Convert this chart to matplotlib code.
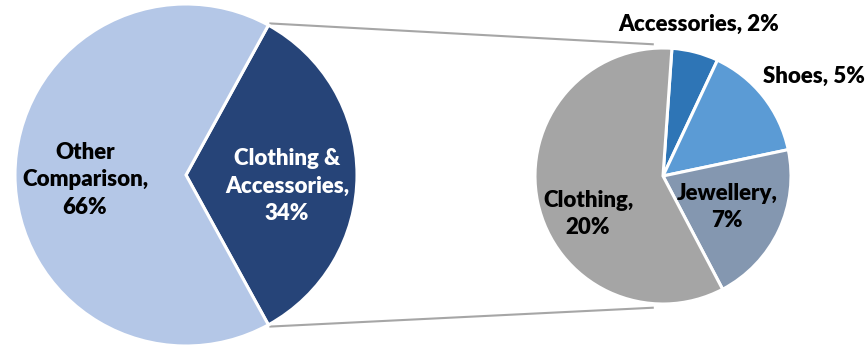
import numpy as np
import matplotlib
matplotlib.use("Agg")
import matplotlib.pyplot as plt

# Overall split of comparison spending
main_labels = ["Clothing &\nAccessories,\n34%", "Other\nComparison,\n66%"]
main_values = [34, 66]
main_colors = ["#264478", "#B4C7E7"]
main_text_colors = ["white", "black"]

# Breakdown of the Clothing & Accessories share
sub_labels = ["Accessories, 2%", "Shoes, 5%", "Jewellery,\n7%", "Clothing,\n20%"]
sub_values = [2, 5, 7, 20]
sub_colors = ["#2E75B6", "#5B9BD5", "#8497B0", "#A5A5A5"]

W, H = 868, 348
fig = plt.figure(figsize=(W / 100, H / 100), dpi=100)
ax = fig.add_axes([0, 0, 1, 1])
ax.set_xlim(0, W)
ax.set_ylim(0, H)
ax.set_aspect("equal")
ax.axis("off")

font = dict(family=["Lato", "DejaVu Sans"], fontweight="heavy", fontsize=16)

# Left pie
c1, r1 = (186, 173), 171
half = 360 * main_values[0] / sum(main_values) / 2
ax.pie(main_values, colors=main_colors, startangle=-half, counterclock=True,
       center=c1, radius=r1, frame=True,
       wedgeprops=dict(edgecolor="white", linewidth=2.2))

main_pos = [(287, 162), (85, 168)]
for lab, (x, y), tc in zip(main_labels, main_pos, main_text_colors):
    ax.text(x, y, lab, ha="center", va="center", color=tc,
            linespacing=1.38, **font)

# Right pie
c2, r2 = (663, 172), 128
ax.pie(sub_values, colors=sub_colors, startangle=86, counterclock=False,
       center=c2, radius=r2, frame=True,
       wedgeprops=dict(edgecolor="white", linewidth=2.2))

sub_pos = [(699, 324), (814, 272), (727, 141), (588, 134)]
for lab, (x, y) in zip(sub_labels, sub_pos):
    ax.text(x, y, lab, ha="center", va="center", color="black",
            linespacing=1.38, **font)

# Connector lines between the exploded slice and the breakdown pie
ax.set_xlim(0, W)
ax.set_ylim(0, H)
for sign in (1, -1):
    a1 = np.deg2rad(sign * half)
    a2 = np.deg2rad(sign * 94)
    p1 = (c1[0] + (r1 + 2) * np.cos(a1), c1[1] + (r1 + 2) * np.sin(a1))
    p2 = (c2[0] + (r2 + 4) * np.cos(a2), c2[1] + (r2 + 4) * np.sin(a2))
    ax.plot([p1[0], p2[0]], [p1[1], p2[1]], color="#A6A6A6", lw=1.5,
            zorder=0, solid_capstyle="butt")

fig.savefig("out.png", dpi=100)
